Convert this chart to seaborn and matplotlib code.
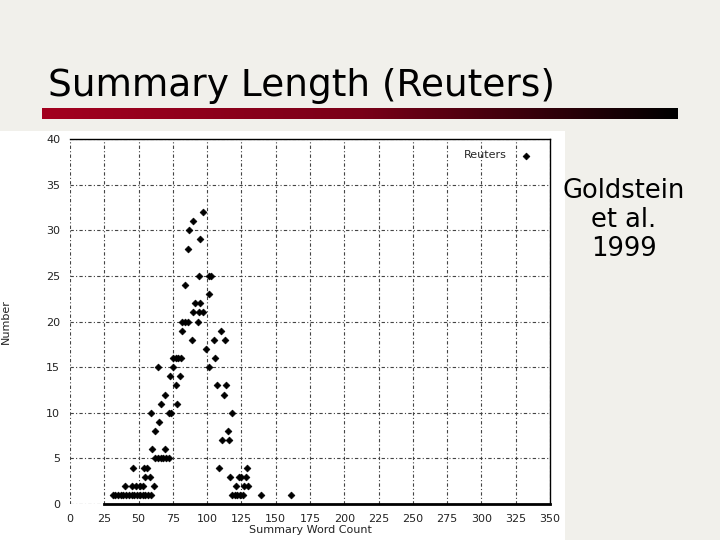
import matplotlib
matplotlib.use("Agg")
import matplotlib.pyplot as plt
import numpy as np
import pandas as pd
import seaborn as sns
from matplotlib.colors import LinearSegmentedColormap
from matplotlib.patches import Rectangle

# ---- data ----
number = (
    [32] + [31] + [30] + [29] + [28]
    + [25] * 3 + [24] + [23] + [22] * 2 + [21] * 3 + [20] * 4 + [19] * 2
    + [18] * 3 + [17] + [16] * 5 + [15] * 3 + [14] * 2 + [13] * 3 + [12] * 2
    + [11] * 2 + [10] * 4 + [9] + [8] * 2 + [7] * 2 + [6] * 2 + [5] * 6
    + [4] * 5 + [3] * 6 + [2] * 9 + [1] * 22
)
word_count = [
    97, 90, 87, 95, 86,
    94, 101, 103,
    84,
    101,
    91, 95,
    90, 94, 97,
    82, 84, 86, 93,
    82, 110,
    89, 105, 113,
    99,
    75, 77, 79, 81, 106,
    64, 75, 101,
    73, 80,
    77, 107, 114,
    69, 112,
    66, 78,
    59, 72, 74, 118,
    65,
    62, 115,
    111, 116,
    60, 69,
    62, 64, 66, 68, 70, 72,
    46, 54, 56, 109, 129,
    55, 58, 117, 123, 125, 128,
    40, 45, 48, 51, 53, 61, 121, 127, 130,
    31, 33, 35, 37, 39, 41, 43, 45, 47, 49, 51, 53, 55, 57, 59,
    118, 120, 122, 124, 126, 139, 161,
]
series_name = "Reuters"
x_ticks = list(range(0, 351, 25))
y_ticks = list(range(0, 41, 5))

df = pd.DataFrame({"Summary Word Count": word_count, "Number": number})

sns.set_theme(style="white")
plt.rcParams["font.family"] = ["DejaVu Sans"]

fig = plt.figure(figsize=(7.2, 5.4), dpi=100)
fig.patch.set_facecolor("#f1f0eb")

# white scanned-figure panel
fig.patches.append(Rectangle((0, 0), 565 / 720, (540 - 131) / 540,
                             transform=fig.transFigure, facecolor="white",
                             edgecolor="none", zorder=-5))

# title
fig.text(48 / 720, 1 - 96 / 540, "Summary Length (Reuters)",
         family=["DejaVu Sans"], fontsize=27,
         color="black", ha="left", va="baseline")

# gradient bar
bar_ax = fig.add_axes([42 / 720, 1 - 119 / 540, 636 / 720, 11 / 540])
cmap = LinearSegmentedColormap.from_list("bar", ["#a3001f", "#7a0018", "#000000"])
bar_ax.imshow(np.linspace(0, 1, 256)[None, :], aspect="auto", cmap=cmap)
bar_ax.set_axis_off()

# side note
fig.text(624 / 720, 1 - 178 / 540, "Goldstein\net al.\n1999",
         family=["DejaVu Sans"], fontsize=18.5,
         color="black", ha="center", va="top", linespacing=1.15,
         multialignment="center")

# chart
ax = fig.add_axes([70 / 720, 1 - 504 / 540, 480 / 720, 365 / 540])
ax.set_facecolor("white")
sns.scatterplot(data=df, x="Summary Word Count", y="Number", ax=ax,
                marker="D", s=12, color="black", edgecolor="black",
                linewidth=0.5, label=series_name, zorder=3)
ax.set_xlim(0, 350)
ax.set_ylim(0, 40)
ax.set_xticks(x_ticks)
ax.set_yticks(y_ticks)
ax.set_xticklabels([str(t) for t in x_ticks])
ax.set_yticklabels([str(t) for t in y_ticks])
ax.tick_params(axis="both", labelsize=8, colors="#222222", length=4,
               width=1, direction="out", pad=3)
ax.grid(True, linestyle=(0, (3, 2, 1, 2)), color="#444444", linewidth=0.8)
for side in ["top", "right"]:
    ax.spines[side].set_visible(True)
    ax.spines[side].set_color("black")
    ax.spines[side].set_linewidth(1.0)
ax.spines["left"].set_visible(False)
ax.spines["bottom"].set_color("black")
ax.spines["bottom"].set_linewidth(2.0)
ax.spines["bottom"].set_bounds(25, 350)
ax.set_xlabel("Summary Word Count", fontsize=8, color="#222222", labelpad=1)
ax.set_ylabel("Number", fontsize=8, color="#222222")
ax.yaxis.set_label_coords(-59 / 480, 0.5)
ax.legend(loc="upper right", markerfirst=False, frameon=False, fontsize=8,
          handletextpad=0.8, borderaxespad=0.3, bbox_to_anchor=(0.99, 0.99))

fig.savefig("out.png", dpi=100, facecolor=fig.get_facecolor())
